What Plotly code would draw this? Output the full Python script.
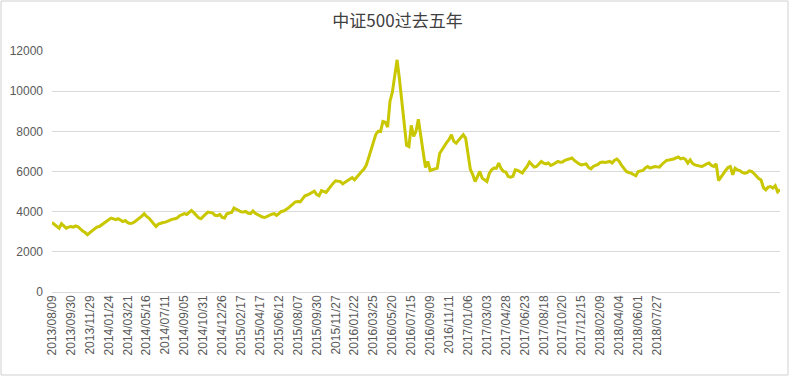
import plotly.graph_objects as go

# Weekly closing values of the CSI 500
values = [
    3460, 3380, 3300, 3180, 3400, 3300, 3180, 3230, 3260, 3230,
    3290, 3250, 3130, 3030, 2960, 2850, 2960, 3060, 3150, 3230,
    3260, 3350, 3460, 3530, 3600, 3680, 3620, 3600, 3650, 3560,
    3510, 3560, 3450, 3410, 3430, 3500, 3580, 3680, 3780, 3900,
    3760, 3680, 3530, 3400, 3260, 3380, 3430, 3460, 3480, 3540,
    3580, 3630, 3650, 3690, 3800, 3870, 3900, 3860, 3950, 4060,
    3950, 3820, 3700, 3650, 3780, 3880, 3980, 3950, 3930, 3820,
    3800, 3860, 3720, 3690, 3900, 3930, 3960, 4180, 4100, 4060,
    3990, 3980, 4010, 3920, 3900, 4040, 3920, 3850, 3780, 3730,
    3710, 3780, 3830, 3880, 3900, 3810, 3900, 4010, 4030, 4090,
    4180, 4290, 4380, 4490, 4510, 4490, 4640, 4790, 4830, 4890,
    4960, 5020, 4850, 4790, 5050, 5000, 4960, 5120, 5290, 5420,
    5540, 5520, 5500, 5390, 5470, 5580, 5640, 5700, 5590, 5740,
    5860, 6000, 6120, 6330, 6700, 7100, 7580, 7850, 8000, 7990,
    8490, 8450, 8210, 9500, 9950, 10900, 11560, 10600, 9400, 8200,
    7300, 7240, 8300, 7750, 8000, 8600, 7900, 7000, 6200, 6500,
    6050, 6100, 6120, 6170, 6900, 7100, 7250, 7450, 7600, 7830,
    7500, 7410, 7560, 7700, 7830, 7660, 6900, 6100, 5850, 5500,
    5750, 6000, 5670, 5580, 5500, 5900, 6080, 6170, 6160, 6420,
    6150, 6000, 5970, 5750, 5720, 5760, 6080, 6050, 6000, 5920,
    6100, 6250, 6470, 6350, 6220, 6250, 6380, 6500, 6420, 6380,
    6420, 6300, 6350, 6420, 6500, 6460, 6470, 6560, 6600, 6650,
    6670, 6550, 6450, 6380, 6330, 6360, 6380, 6200, 6130, 6250,
    6300, 6350, 6450, 6470, 6450, 6480, 6500, 6420, 6560, 6620,
    6500, 6300, 6150, 6000, 5950, 5920, 5850, 5790, 6000, 6030,
    6050, 6180, 6250, 6170, 6220, 6250, 6230, 6220, 6350, 6450,
    6550, 6570, 6590, 6620, 6680, 6720, 6630, 6670, 6600, 6420,
    6580, 6400, 6330, 6280, 6270, 6250, 6330, 6380, 6420, 6300,
    6250, 6380, 5550, 5750, 5880, 6050, 6200, 6250, 5840, 6170,
    6080, 6050, 5950, 5920, 5930, 6030, 6010, 5900, 5750, 5650,
    5580, 5200, 5090, 5220, 5250, 5170, 5290, 4990, 5100,
]

tick_labels = [
    "2013/08/09", "2013/09/30", "2013/11/29", "2014/01/24", "2014/03/21",
    "2014/05/16", "2014/07/11", "2014/09/05", "2014/10/31", "2014/12/26",
    "2015/02/17", "2015/04/17", "2015/06/12", "2015/08/07", "2015/09/30",
    "2015/11/27", "2016/01/22", "2016/03/25", "2016/05/20", "2016/07/15",
    "2016/09/09", "2016/11/11", "2017/01/06", "2017/03/03", "2017/04/28",
    "2017/06/23", "2017/08/18", "2017/10/20", "2017/12/15", "2018/02/09",
    "2018/04/04", "2018/06/01", "2018/07/27",
]
label_step = 8  # one label every 8 weekly points

x_idx = list(range(len(values)))
tick_pos = [k * label_step for k in range(len(tick_labels))]

fig = go.Figure()
fig.add_trace(go.Scatter(
    x=x_idx, y=values, mode="lines",
    line=dict(color="#c9c700", width=3),
    hoverinfo="y",
))

W, H = 795, 377
ml, mr, mt, mb = 52, 15, 51, 85

fig.update_layout(
    width=W, height=H,
    margin=dict(l=ml, r=mr, t=mt, b=mb, autoexpand=False),
    paper_bgcolor="white", plot_bgcolor="white",
    showlegend=False,
    title=dict(text="中证500过去五年", x=0.5, xanchor="center", y=1 - 21 / H, yanchor="middle",
               font=dict(family="Noto Sans CJK SC, Liberation Sans, sans-serif", size=17, color="#404040")),
    font=dict(family="Liberation Sans, Arial, sans-serif", size=12, color="#595959"),
    xaxis=dict(
        range=[0, len(values) - 1],
        tickmode="array", tickvals=tick_pos, ticktext=tick_labels,
        tickangle=-90, showgrid=False, zeroline=False,
        showline=False, ticks="", tickfont=dict(size=12, color="#595959"),
    ),
    yaxis=dict(
        range=[0, 12000], dtick=2000, showgrid=True, gridcolor="#d9d9d9", gridwidth=1,
        zeroline=True, zerolinecolor="#d9d9d9", zerolinewidth=1,
        showline=False, ticks="", tickformat="d", ticklabelstandoff=8,
        tickfont=dict(size=12, color="#595959"),
    ),
)

# thin border around the whole chart area
pw = W - ml - mr
ph = H - mt - mb
fig.add_shape(type="rect", xref="paper", yref="paper",
              x0=(1 - ml) / pw, x1=(788 - ml) / pw,
              y0=(H - 375 - mb) / ph, y1=(H - 1 - mb) / ph,
              line=dict(color="#d0d0d0", width=1), fillcolor="rgba(0,0,0,0)", layer="below")

fig.write_html("out.html", config={"displayModeBar": False},
               post_script="document.body.style.margin='0';document.body.style.overflow='hidden';")
